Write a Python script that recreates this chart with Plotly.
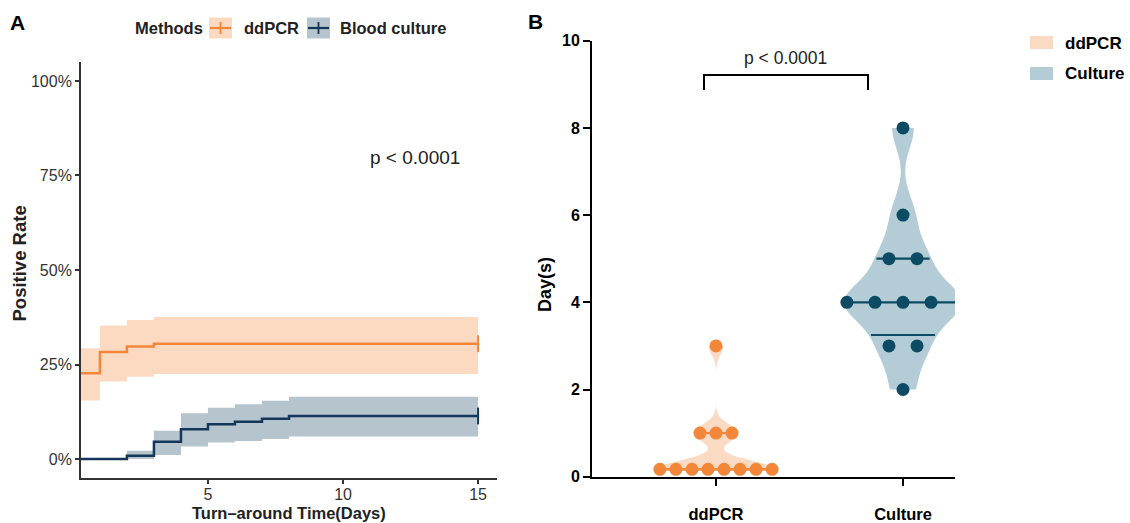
import numpy as np
import plotly.graph_objects as go

# ---------------- Panel A data (Kaplan-Meier style cumulative positive rate) ----------------
km_methods = ["ddPCR", "Blood culture"]
ddpcr_time = [0, 1, 2, 3, 15]
ddpcr_rate = [0.227, 0.283, 0.298, 0.305, 0.305]
ddpcr_lower = [0.155, 0.205, 0.218, 0.225, 0.225]
ddpcr_upper = [0.293, 0.353, 0.368, 0.376, 0.376]

culture_time = [0, 2, 3, 4, 5, 6, 7, 8, 15]
culture_rate = [0.0, 0.009, 0.046, 0.079, 0.092, 0.099, 0.107, 0.114, 0.114]
culture_lower = [0.0, 0.0, 0.011, 0.033, 0.044, 0.048, 0.053, 0.060, 0.060]
culture_upper = [0.0, 0.022, 0.075, 0.121, 0.136, 0.145, 0.154, 0.165, 0.165]

km_x_ticks = [5, 10, 15]
km_y_ticks = [0, 0.25, 0.5, 0.75, 1.0]
km_pval_text = "p < 0.0001"

# ---------------- Panel B data (turn-around days) ----------------
groups = ["ddPCR", "Culture"]
ddpcr_days = [0.17, 0.17, 0.17, 0.17, 0.17, 0.17, 0.17, 0.17, 1, 1, 1, 3]
culture_days = [2, 3, 3, 4, 4, 4, 4, 4, 5, 5, 6, 8]
day_ticks = [0, 2, 4, 6, 8, 10]
b_pval_text = "p < 0.0001"

# ---------------- styles ----------------
FONT = "Liberation Sans"
ORANGE = "#F2873A"
ORANGE_FILL = "rgba(245,150,80,0.35)"
NAVY = "#14365A"
NAVY_FILL = "rgba(90,125,145,0.45)"
PEACH = "#FBDAC4"
TEAL_FILL = "#B3CCD5"
TEAL = "#0C4B63"
VIOLIN_WIDTH = 0.63
BANDWIDTH = {"ddPCR": 0.2, "Culture": 0.47}

W, H = 1130, 523
def px_x(p):
    return p / W
def px_y(p):
    return 1 - p / H

fig = go.Figure()

# ---- Panel A: ribbons + step lines ----
series_a = [
    (km_methods[0], ddpcr_time, ddpcr_rate, ddpcr_lower, ddpcr_upper, ORANGE, ORANGE_FILL),
    (km_methods[1], culture_time, culture_rate, culture_lower, culture_upper, NAVY, NAVY_FILL),
]
for name, t, r, lo, up, col, fillcol in series_a:
    fig.add_trace(go.Scatter(x=t, y=lo, mode="lines", line=dict(width=0, shape="hv"),
                             hoverinfo="skip", showlegend=False, xaxis="x", yaxis="y"))
    fig.add_trace(go.Scatter(x=t, y=up, mode="lines", line=dict(width=0, shape="hv"),
                             fill="tonexty", fillcolor=fillcol, hoverinfo="skip",
                             showlegend=False, xaxis="x", yaxis="y"))
for name, t, r, lo, up, col, fillcol in series_a:
    fig.add_trace(go.Scatter(x=t, y=r, mode="lines", name=name,
                             line=dict(color=col, width=2.5, shape="hv"),
                             showlegend=False, xaxis="x", yaxis="y"))
    fig.add_trace(go.Scatter(x=[t[-1]], y=[r[-1]], mode="markers",
                             marker=dict(symbol="line-ns", size=12, line=dict(color=col, width=2)),
                             showlegend=False, hoverinfo="skip", xaxis="x", yaxis="y"))

# ---- Panel B: violins + beeswarm points + quartile lines ----
def kde(vals, bw, grid):
    v = np.asarray(vals, dtype=float)
    g = np.asarray(grid, dtype=float)[:, None]
    return np.exp(-0.5 * ((g - v[None, :]) / bw) ** 2).sum(axis=1) / (len(v) * bw * np.sqrt(2 * np.pi))

group_data = [(groups[0], ddpcr_days, PEACH, ORANGE), (groups[1], culture_days, TEAL_FILL, TEAL)]
for gi, (gname, vals, fill, ptcol) in enumerate(group_data):
    bw = BANDWIDTH[gname]
    fig.add_trace(go.Violin(x=[gi] * len(vals), y=vals, name=gname, xaxis="x2", yaxis="y2",
                            width=VIOLIN_WIDTH, scalemode="width", spanmode="hard",
                            bandwidth=bw, fillcolor=fill, line=dict(width=0, color=fill),
                            points=False, box_visible=False, meanline_visible=False,
                            hoverinfo="skip", showlegend=False, opacity=1))
    # quartile lines (median + quartiles) spanning the violin width
    grid = np.linspace(min(vals), max(vals), 400)
    dmax = kde(vals, bw, grid).max()
    qs = np.percentile(vals, [25, 50, 75], method="weibull")
    for q in qs:
        hw = 0.93 * (VIOLIN_WIDTH / 2) * kde(vals, bw, [q])[0] / dmax
        fig.add_trace(go.Scatter(x=[gi - hw, gi + hw], y=[q, q], mode="lines",
                                 line=dict(color=ptcol, width=2.2), hoverinfo="skip",
                                 showlegend=False, xaxis="x2", yaxis="y2"))
    # beeswarm-like rows
    uniq, counts = np.unique(vals, return_counts=True)
    spacing = 0.6 / (counts.max() - 1)
    xs, ys = [], []
    for u, c in zip(uniq, counts):
        for i in range(c):
            xs.append(gi + (i - (c - 1) / 2) * spacing)
            ys.append(u)
    fig.add_trace(go.Scatter(x=xs, y=ys, mode="markers", name=gname,
                             marker=dict(color=ptcol, size=13, line=dict(width=0)),
                             showlegend=False, xaxis="x2", yaxis="y2", cliponaxis=False))

# ---- layout ----
axis_a = dict(showgrid=False, zeroline=False, showline=True, linecolor="#333333", linewidth=1.8,
              ticks="outside", ticklen=4, tickwidth=1.5, tickcolor="#333333",
              tickfont=dict(family=FONT, size=16, color="#333333"), automargin=False)
axis_b = dict(showgrid=False, zeroline=False, showline=True, linecolor="black", linewidth=2,
              ticks="outside", ticklen=7, tickwidth=2, tickcolor="black",
              tickfont=dict(family=FONT, size=16, color="black", weight="bold"), automargin=False)

fig.update_layout(
    width=W, height=H, margin=dict(l=0, r=0, t=0, b=0),
    paper_bgcolor="white", plot_bgcolor="white", showlegend=False,
    font=dict(family=FONT, size=16, color="#222222"),
    xaxis=dict(axis_a, domain=[px_x(81), px_x(497)], range=[0.3, 15.7], tickvals=km_x_ticks, anchor="y",
               ticklabelstandoff=-3),
    yaxis=dict(axis_a, domain=[px_y(478), px_y(62)], range=[-0.05, 1.05], tickvals=km_y_ticks,
               tickformat=".0%", anchor="x"),
    xaxis2=dict(axis_b, domain=[px_x(592), px_x(955)], range=[-0.663, 1.278], tickvals=[0, 1],
                ticktext=groups, anchor="y2", ticklabelstandoff=14,
                tickfont=dict(family=FONT, size=16.5, color="black", weight="bold")),
    yaxis2=dict(axis_b, domain=[px_y(476.7), px_y(40.7)], range=[0, 10], tickvals=day_ticks, anchor="x2"),
)

ann = []
# panel letters
ann.append(dict(text="<b>A</b>", x=px_x(17), y=px_y(22.5), font=dict(size=21, color="black")))
ann.append(dict(text="<b>B</b>", x=px_x(535), y=px_y(22), font=dict(size=21, color="black")))
# axis titles
ann.append(dict(text="<b>Turn–around Time(Days)</b>", x=px_x(289), y=px_y(513), font=dict(size=16.5, color="#222")))
ann.append(dict(text="<b>Positive Rate</b>", x=px_x(18.5), y=px_y(264), textangle=-90, font=dict(size=18.5, color="#222")))
ann.append(dict(text="<b>Day(s)</b>", x=px_x(545), y=px_y(285), textangle=-90, font=dict(size=18, color="black")))
# p-values
ann.append(dict(text=km_pval_text, x=12.65, y=0.797, xref="x", yref="y", font=dict(size=19, color="#222")))
ann.append(dict(text=b_pval_text, x=px_x(785), y=px_y(58), font=dict(size=17.5, color="#222")))
# legend A
ann.append(dict(text="<b>Methods</b>", x=px_x(133), y=px_y(28), xanchor="left", font=dict(size=16.5, color="#222")))
ann.append(dict(text="<b>ddPCR</b>", x=px_x(242), y=px_y(28), xanchor="left", font=dict(size=16.5, color="#222")))
ann.append(dict(text="<b>Blood culture</b>", x=px_x(338), y=px_y(28), xanchor="left", font=dict(size=16.5, color="#222")))
# legend B
ann.append(dict(text="<b>ddPCR</b>", x=px_x(1063), y=px_y(43), xanchor="left", font=dict(size=17, color="black")))
ann.append(dict(text="<b>Culture</b>", x=px_x(1063), y=px_y(73.5), xanchor="left", font=dict(size=17, color="black")))
for a in ann:
    a.setdefault("xref", "paper")
    a.setdefault("yref", "paper")
    a.setdefault("xanchor", "center")
    a.setdefault("yanchor", "middle")
    a["showarrow"] = False
    a["font"].setdefault("family", FONT)
fig.update_layout(annotations=ann)

shapes = []
# legend A keys
for x0, fillc, linec in [(209, ORANGE_FILL, ORANGE), (307, NAVY_FILL, NAVY)]:
    shapes.append(dict(type="rect", xref="paper", yref="paper", x0=px_x(x0), x1=px_x(x0 + 23),
                       y0=px_y(38.5), y1=px_y(17.5), fillcolor=fillc, line=dict(width=0)))
    shapes.append(dict(type="line", xref="paper", yref="paper", x0=px_x(x0 + 1), x1=px_x(x0 + 22),
                       y0=px_y(28), y1=px_y(28), line=dict(color=linec, width=2.2)))
    shapes.append(dict(type="line", xref="paper", yref="paper", x0=px_x(x0 + 11.5), x1=px_x(x0 + 11.5),
                       y0=px_y(22), y1=px_y(34), line=dict(color=linec, width=1.8)))
# legend B keys
for y0, fillc in [(36, PEACH), (67, TEAL_FILL)]:
    shapes.append(dict(type="rect", xref="paper", yref="paper", x0=px_x(1030), x1=px_x(1053),
                       y0=px_y(y0 + 13), y1=px_y(y0), fillcolor=fillc, line=dict(width=0)))
# significance bracket in panel B
shapes.append(dict(type="path", xref="paper", yref="paper",
                   path=f"M {px_x(704)},{px_y(90)} L {px_x(704)},{px_y(75)} L {px_x(868)},{px_y(75)} L {px_x(868)},{px_y(90)}",
                   line=dict(color="black", width=2)))
fig.update_layout(shapes=shapes)

fig.write_html("out.html")
